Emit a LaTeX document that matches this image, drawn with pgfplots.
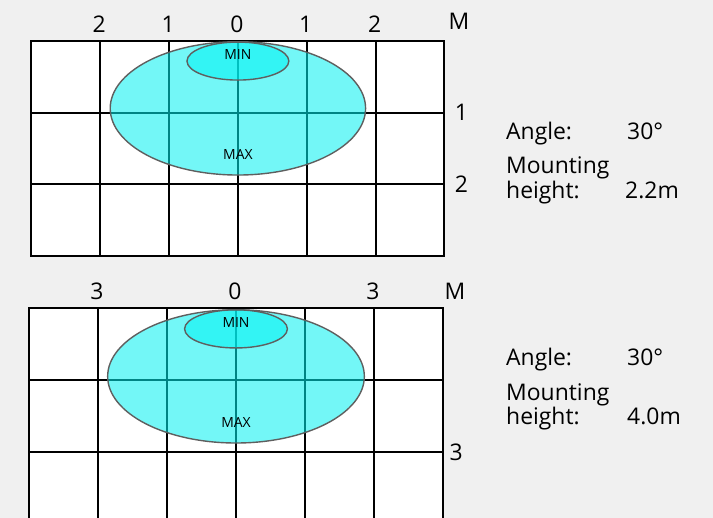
\documentclass[border=0pt]{standalone}
\usepackage{fontspec}
\setmainfont{Open Sans}
\usepackage{pgfplots}
\pgfplotsset{compat=1.18}
\definecolor{bg}{RGB}{240,240,240}
\definecolor{edge}{RGB}{95,95,95}
\definecolor{cy}{RGB}{0,242,242}
\tikzset{ell/.style={fill=cy, fill opacity=0.55, draw=edge, draw opacity=1, line width=1.4bp}}
\pgfplotsset{panel/.style={
  scale only axis, xmin=-3, xmax=3, ymin=0, ymax=3, y dir=reverse,
  axis background/.style={fill=white},
  axis line style={black, line width=1.9bp},
  grid=major, major grid style={black, line width=1.9bp},
  xtick={-2,-1,0,1,2}, ytick={1,2},
  xticklabel pos=right, yticklabel pos=right,
  tick style={draw=none},
  ticklabel style={font=\fontsize{23}{27}\selectfont},
  xticklabel style={yshift=5bp, xshift=-1bp},
}}
\begin{document}
\begin{tikzpicture}
\useasboundingbox (0,0) rectangle (713bp,-518bp);
\fill[bg] (0,0) rectangle (713bp,-518bp);
\clip (0,0) rectangle (713bp,-518bp);
% top panel
\begin{axis}[panel, at={(31.4bp,-41bp)}, anchor=north west, width=413bp, height=215bp,
  xticklabels={2,1,0,1,2}, yticklabels={1,2}, yticklabel style={xshift=7bp}]
\draw[ell] (axis cs:0,0.94) ellipse [x radius=1.855, y radius=0.93];
\draw[ell] (axis cs:0,0.28) ellipse [x radius=0.74, y radius=0.265];
\node[font=\fontsize{14}{16}\selectfont] at (axis cs:0,0.19) {MIN};
\node[font=\fontsize{14}{16}\selectfont] at (axis cs:0,1.58) {MAX};
\end{axis}
% bottom panel
\begin{axis}[panel, at={(29bp,-308bp)}, anchor=north west, width=414bp, height=216bp,
  xticklabels={3,,0,,3}, yticklabels={,3}, yticklabel style={xshift=3bp}]
\draw[ell] (axis cs:0,0.95) ellipse [x radius=1.86, y radius=0.925];
\draw[ell] (axis cs:0,0.29) ellipse [x radius=0.745, y radius=0.265];
\node[font=\fontsize{14}{16}\selectfont] at (axis cs:0,0.2) {MIN};
\node[font=\fontsize{14}{16}\selectfont] at (axis cs:0,1.59) {MAX};
\end{axis}
\begin{scope}[every node/.style={font=\fontsize{23}{27}\selectfont, inner sep=0pt}]
\node at (459bp,-21bp) {M};
\node at (455bp,-291bp) {M};
\node[anchor=base west] at (506bp,-139bp) {Angle:};
\node[anchor=base west] at (627bp,-139bp) {30°};
\node[anchor=base west] at (506bp,-173bp) {Mounting};
\node[anchor=base west] at (506bp,-198bp) {height:};
\node[anchor=base west] at (625bp,-198bp) {2.2m};
\node[anchor=base west] at (506bp,-365bp) {Angle:};
\node[anchor=base west] at (627bp,-365bp) {30°};
\node[anchor=base west] at (506bp,-400bp) {Mounting};
\node[anchor=base west] at (506bp,-424bp) {height:};
\node[anchor=base west] at (627bp,-424bp) {4.0m};
\end{scope}
\end{tikzpicture}
\end{document}
